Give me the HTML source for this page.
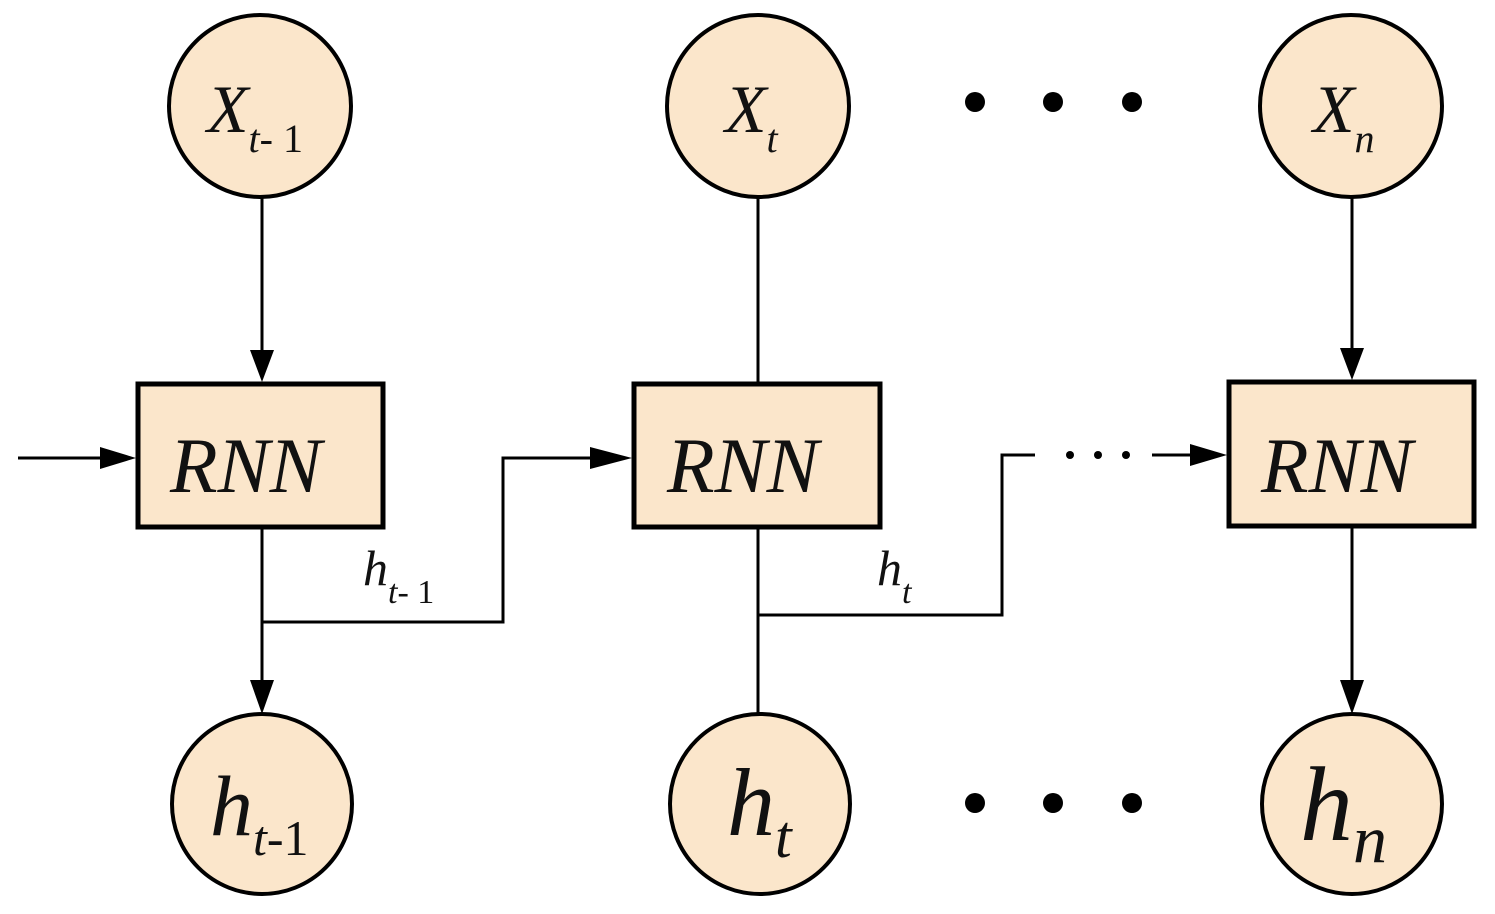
<!DOCTYPE html>
<html><head><style>html,body{margin:0;padding:0;background:#fff}svg{display:block}text{font-family:"Liberation Serif","Times New Roman",serif;font-style:italic}</style></head>
<body>
<svg width="1495" height="914" viewBox="0 0 1495 914" xmlns="http://www.w3.org/2000/svg">
<g fill="#fbe6cb" stroke="#000" stroke-width="4">
<circle cx="260" cy="106" r="91"/>
<circle cx="758" cy="106" r="91"/>
<circle cx="1351" cy="106" r="91"/>
<circle cx="262" cy="804" r="90"/>
<circle cx="760" cy="804" r="90"/>
<circle cx="1352" cy="804" r="90"/>
<rect x="138" y="384" width="245" height="143" stroke-width="5"/>
<rect x="634" y="384" width="246" height="143" stroke-width="5"/>
<rect x="1229" y="382" width="245" height="144" stroke-width="5"/>
</g>
<g stroke="#000" stroke-width="3" fill="none">
<line x1="262" y1="197" x2="262" y2="350"/>
<line x1="18" y1="458" x2="100" y2="458"/>
<line x1="262" y1="527" x2="262" y2="680"/>
<polyline points="262,622 503,622 503,458 590,458"/>
<line x1="758" y1="197" x2="758" y2="384"/>
<line x1="758" y1="527" x2="758" y2="714"/>
<polyline points="758,615 1002,615 1002,455 1035,455"/>
<line x1="1152" y1="455" x2="1190" y2="455"/>
<line x1="1352" y1="197" x2="1352" y2="348"/>
<line x1="1352" y1="526" x2="1352" y2="680"/>
</g>
<g fill="#000">
<polygon points="250,350 274,350 262,382"/>
<polygon points="100,447 100,469 136,458"/>
<polygon points="250,680 274,680 262,714"/>
<polygon points="590,447 590,469 632,458"/>
<polygon points="1190,444 1190,466 1227,455"/>
<polygon points="1340,348 1364,348 1352,380"/>
<polygon points="1340,680 1364,680 1352,714"/>
<circle cx="975" cy="102" r="10"/><circle cx="1053" cy="102" r="10"/><circle cx="1132" cy="102" r="10"/>
<circle cx="975" cy="803" r="10"/><circle cx="1053" cy="803" r="10"/><circle cx="1132" cy="803" r="10"/>
<circle cx="1070" cy="455" r="4"/><circle cx="1098" cy="455" r="4"/><circle cx="1126" cy="455" r="4"/>
</g>
<g fill="#111">
<text x="207" y="132" font-size="68">X<tspan font-size="40" dy="20">t</tspan><tspan font-size="40" font-style="normal">- 1</tspan></text>
<text x="725" y="132" font-size="68">X<tspan font-size="40" dy="20">t</tspan></text>
<text x="1313" y="132" font-size="68">X<tspan font-size="40" dy="20">n</tspan></text>
<text x="170" y="492" font-size="78">RNN</text>
<text x="667" y="492" font-size="78">RNN</text>
<text x="1261" y="492" font-size="78">RNN</text>
<text x="363" y="585" font-size="50">h<tspan font-size="34" dy="18">t</tspan><tspan font-size="34" font-style="normal">- 1</tspan></text>
<text x="877" y="585" font-size="50">h<tspan font-size="34" dy="18">t</tspan></text>
<text x="210" y="835" font-size="86">h<tspan font-size="50" dy="20">t</tspan><tspan font-size="50" font-style="normal">-1</tspan></text>
<text x="727" y="835" font-size="96">h<tspan font-size="60" dy="22">t</tspan></text>
<text x="1300" y="840" font-size="106">h<tspan font-size="68" dy="22">n</tspan></text>
</g>
</svg>
</body></html>
